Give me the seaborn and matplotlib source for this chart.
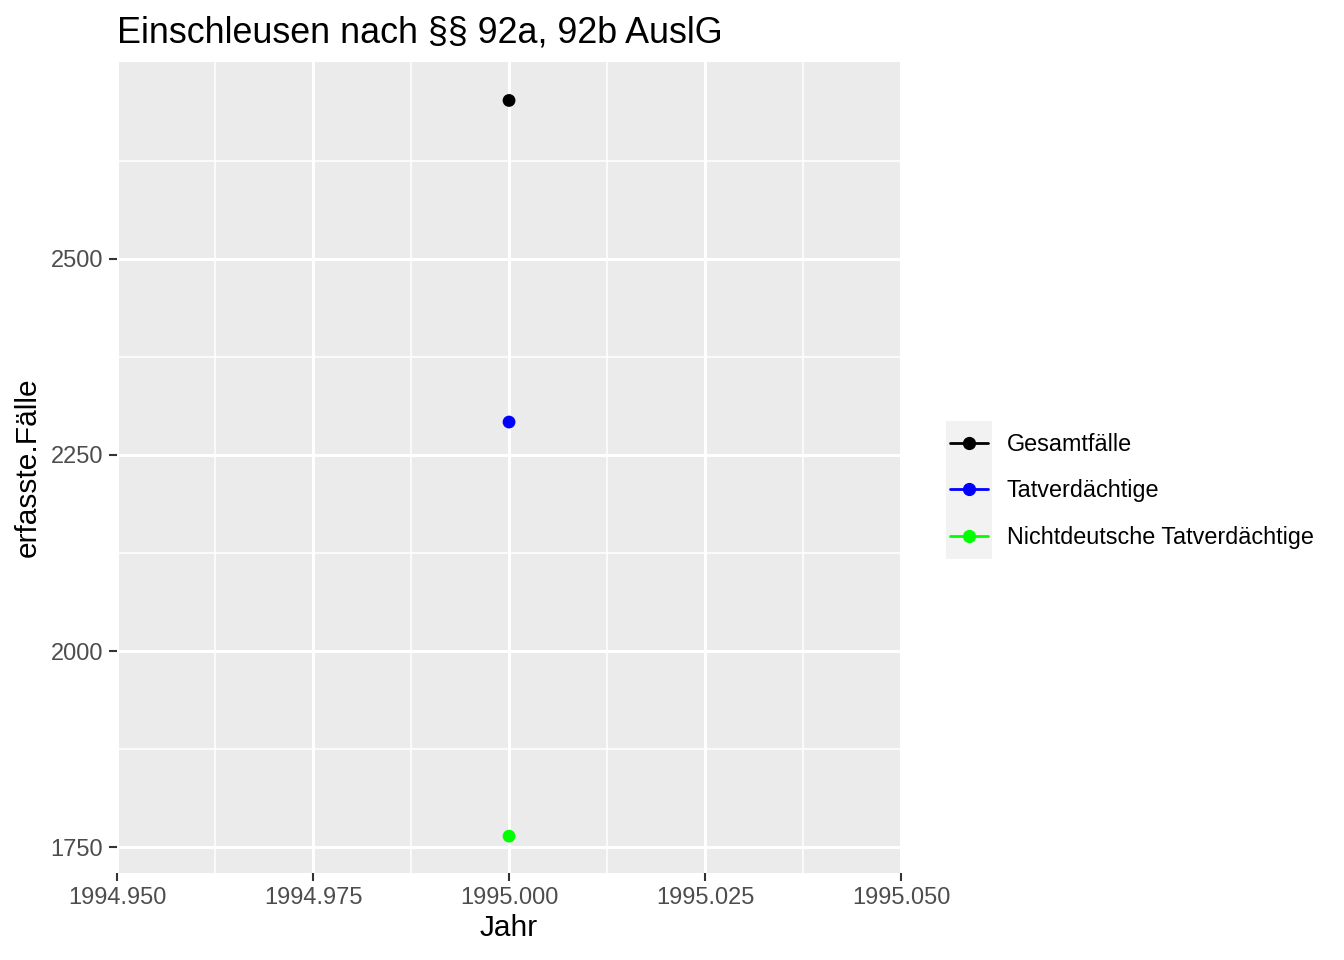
import matplotlib
matplotlib.use("Agg")
import matplotlib.pyplot as plt
from matplotlib.lines import Line2D
from matplotlib.patches import Rectangle
import seaborn as sns
import pandas as pd

# data
jahr = [1995, 1995, 1995]
faelle = [2702, 2292, 1764]
serien = ["Gesamtfälle", "Tatverdächtige", "Nichtdeutsche Tatverdächtige"]
farben = ["#000000", "#0000FF", "#00FF00"]

df = pd.DataFrame({"Jahr": jahr, "erfasste.Fälle": faelle, "Serie": serien})

sns.set_style("whitegrid")
plt.rcParams["font.family"] = ["Liberation Sans", "DejaVu Sans"]
plt.rcParams["text.color"] = "black"
plt.rcParams["axes.labelcolor"] = "black"

fig = plt.figure(figsize=(13.44, 9.6), dpi=100)
ax = fig.add_axes([0.0871, 0.0906, 0.5833, 0.8448])
ax.set_facecolor("#EBEBEB")

pal = dict(zip(serien, farben))
sns.lineplot(data=df, x="Jahr", y="erfasste.Fälle", hue="Serie", palette=pal,
             ax=ax, legend=False)
sns.scatterplot(data=df, x="Jahr", y="erfasste.Fälle", hue="Serie", palette=pal,
                ax=ax, s=85, edgecolor="none", legend=False, zorder=3)

ax.set_xlim(1994.95, 1995.05)
ax.set_ylim(1717, 2751)
ax.set_xticks([1994.95, 1994.975, 1995.0, 1995.025, 1995.05])
ax.set_xticklabels(["1994.950", "1994.975", "1995.000", "1995.025", "1995.050"])
ax.set_yticks([1750, 2000, 2250, 2500])
ax.set_xticks([1994.9625, 1994.9875, 1995.0125, 1995.0375], minor=True)
ax.set_yticks([1875, 2125, 2375, 2625], minor=True)

ax.grid(which="major", color="white", linewidth=2.2)
ax.grid(which="minor", color="white", linewidth=1.1)
ax.set_axisbelow(True)
for s in ax.spines.values():
    s.set_visible(False)
ax.tick_params(which="major", length=6, width=1.5, color="#333333",
               labelsize=17, labelcolor="#4D4D4D", pad=4)
ax.tick_params(which="minor", length=0)
ax.tick_params(axis="both", which="major", left=True, bottom=True)

ax.set_xlabel("Jahr", fontsize=21.5, labelpad=4)
ax.set_ylabel("erfasste.Fälle", fontsize=21.5, labelpad=6)
ax.set_title("Einschleusen nach §§ 92a, 92b AuslG", fontsize=25.8, loc="left",
             pad=14, color="black")

# legend key background like ggplot
fig.patches.append(Rectangle((946 / 1344, 1 - 559 / 960), 46 / 1344, 138 / 960,
                             transform=fig.transFigure, facecolor="#F2F2F2",
                             edgecolor="none", zorder=0))

handles = [Line2D([0], [0], color=c, marker="o", markersize=8.5, linewidth=2)
           for c in farben]
leg = fig.legend(handles, serien, loc="center left",
                 bbox_to_anchor=(950 / 1344, 1 - 491 / 960),
                 frameon=False, fontsize=16.8, handlelength=1.63,
                 labelspacing=1.0, borderpad=0, borderaxespad=0,
                 handletextpad=0.8)

fig.savefig("out.png", dpi=100)
